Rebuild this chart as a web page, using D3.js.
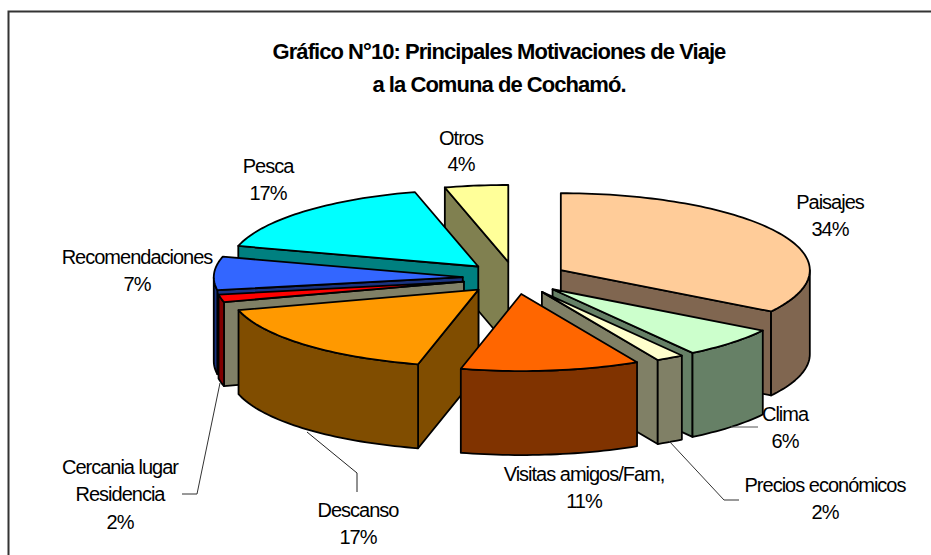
<!DOCTYPE html>
<html>
<head>
  <meta charset="utf-8">
  <title>Principales Motivaciones de Viaje</title>
  <script src="https://d3js.org/d3.v7.min.js"></script>
  <style>
    html, body { margin: 0; padding: 0; background: #fff; overflow: hidden; }
    text { font-family: "Liberation Sans", Arial, sans-serif; fill: #000; }
  </style>
</head>
<body>
  <svg id="chart"></svg>
  <script>
const width = 931;
const height = 555;

// Data : categories run clockwise from 12 o'clock.
const categories = ['Paisajes', 'Clima', 'Precios económicos', 'Visitas amigos/Fam,', 'Descanso', 'Cercania lugar Residencia', 'Recomendaciones', 'Pesca', 'Otros'];
// printed labels, as they stand in the picture
const percentLabels = ['34%', '6%', '2%', '11%', '17%', '2%', '7%', '17%', '4%'];
// shares (the printed labels are rounded)
const shares = [34.0, 6.5, 1.8, 11.6, 16.8, 1.6, 7.0, 16.6, 4.1];

// Colours per category
const topColors = ['#FFCC99', '#CCFFCC', '#FFFFCC', '#FF6600', '#FF9900', '#FF0000', '#3366FF', '#00FFFF', '#FFFF99'];
const wallColors = ['#806650', '#668066', '#808066', '#803300', '#804D00', '#800000', '#1A3380', '#008080', '#808050'];
const cutColors = ['#806650', '#668066', '#808066', '#803300', '#804D00', '#808066', '#1A3380', '#008080', '#808050'];

// Slices are painted from back to front
const paintOrder = [8, 7, 6, 5, 4, 0, 1, 2, 3];

const cx = 515, cy = 278;
const rx = 249, ry = 77;
const explode = 0.21;
const depth = 84;

const svg = d3.select('#chart')
  .attr('width', width)
  .attr('height', height)
  .style('display', 'block');

// chart frame : only the top and left edges fall inside the picture
svg.append('path')
  .attr('d', `M8.5,${height} V11.5 H${width}`)
  .attr('fill', 'none')
  .attr('stroke', '#333')
  .attr('stroke-width', 2);

const xScale = d3.scaleLinear().domain([-1, 1]).range([cx - rx, cx + rx]);
const yScale = d3.scaleLinear().domain([-1, 1]).range([cy - ry, cy + ry]);

const pie = d3.pie().sort(null).value(d => d);
const slices = pie(shares);

const line = d3.line().x(d => d[0]).y(d => d[1]);

// A point on the slice plane, angle clockwise from north, r in pie radii
function project(slice, angle, r, drop) {
  const mid = (slice.startAngle + slice.endAngle) / 2;
  const ux = explode * Math.sin(mid) + r * Math.sin(angle);
  const uy = -explode * Math.cos(mid) - r * Math.cos(angle);
  return [xScale(ux), yScale(uy) + drop];
}

function arcPoints(slice, a0, a1, drop) {
  const n = Math.max(2, Math.ceil((a1 - a0) * 40));
  return d3.range(n + 1).map(i => project(slice, a0 + (a1 - a0) * i / n, 1, drop));
}

function radialFace(slice, angle) {
  return [
    project(slice, angle, 0, 0),
    project(slice, angle, 1, 0),
    project(slice, angle, 1, depth),
    project(slice, angle, 0, depth)
  ];
}

const faces = svg.append('g')
  .attr('stroke', '#000')
  .attr('stroke-width', 1.8)
  .attr('stroke-linejoin', 'round');

paintOrder.forEach(i => {
  const s = slices[i];
  const g = faces.append('g').attr('class', 'slice');

  // cut faces looking toward the viewer
  if (Math.sin(s.startAngle) < -1e-6) {
    g.append('path').attr('d', line(radialFace(s, s.startAngle)) + 'Z').attr('fill', cutColors[i]);
  }
  if (Math.sin(s.endAngle) > 1e-6) {
    g.append('path').attr('d', line(radialFace(s, s.endAngle)) + 'Z').attr('fill', cutColors[i]);
  }

  // outer wall, front half only
  const a0 = Math.max(s.startAngle, Math.PI / 2);
  const a1 = Math.min(s.endAngle, Math.PI * 3 / 2);
  if (a1 > a0) {
    const wall = arcPoints(s, a0, a1, 0).concat(arcPoints(s, a0, a1, depth).reverse());
    g.append('path').attr('d', line(wall) + 'Z').attr('fill', wallColors[i]);
  }

  // top face
  const top = [project(s, s.startAngle, 0, 0)].concat(arcPoints(s, s.startAngle, s.endAngle, 0));
  g.append('path').attr('d', line(top) + 'Z').attr('fill', topColors[i]);
});

// Leader lines
const leaders = [
  { pts: [[731, 427], [758, 427]], color: '#555' },
  { pts: [[669, 441], [724, 500], [739, 500]], color: '#333' },
  { pts: [[307, 432], [357, 473], [357, 492]], color: '#222' },
  { pts: [[220, 383], [197, 494], [182, 494]], color: '#333' }
];
svg.append('g')
  .selectAll('path')
  .data(leaders)
  .enter()
  .append('path')
  .attr('d', d => line(d.pts))
  .attr('fill', 'none')
  .attr('stroke', d => d.color)
  .attr('stroke-width', 1);

// Title
svg.append('text')
  .attr('text-anchor', 'middle')
  .attr('font-size', 22)
  .attr('font-weight', 'bold')
  .attr('letter-spacing', -0.95)
  .selectAll('tspan')
  .data([['Gráfico N°10: Principales Motivaciones de Viaje', 59], ['a la Comuna de Cochamó.', 92]])
  .enter()
  .append('tspan')
  .attr('x', 499)
  .attr('y', d => d[1])
  .text(d => d[0]);

// Slice labels : centre x and the baseline of each line
const labelLayout = [
  { x: 830, ys: [209, 236] },
  { x: 785, ys: [421, 448] },
  { x: 825, ys: [492, 519] },
  { x: 584, ys: [481, 508] },
  { x: 358, ys: [517, 544] },
  { x: 120, ys: [474, 501, 529] },
  { x: 137, ys: [264, 291] },
  { x: 268, ys: [173, 200] },
  { x: 461, ys: [145, 171] }
];

const labelLines = categories.map((c, i) => {
  const words = c === 'Cercania lugar Residencia' ? ['Cercania lugar', 'Residencia'] : [c];
  return words.concat(percentLabels[i]);
});

labelLayout.forEach((l, i) => {
  const t = svg.append('text')
    .attr('text-anchor', 'middle')
    .attr('font-size', 20)
    .attr('letter-spacing', -1);
  labelLines[i].forEach((txt, k) => {
    t.append('tspan').attr('x', l.x).attr('y', l.ys[k]).text(txt);
  });
});
  </script>
</body>
</html>
